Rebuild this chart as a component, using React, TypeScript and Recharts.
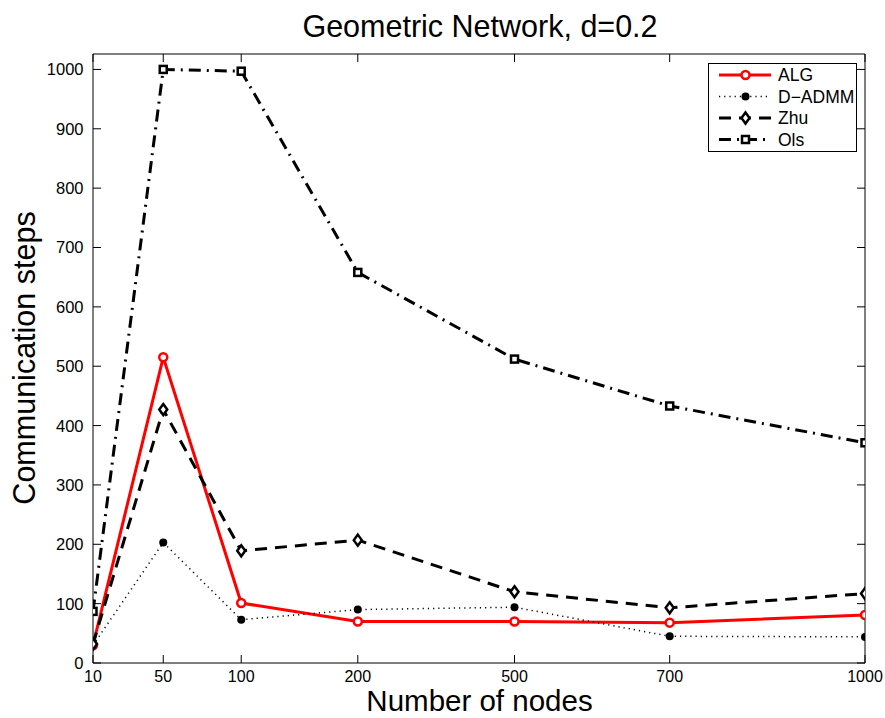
import React from 'react';
import { LineChart, Line, XAxis, YAxis, Legend } from 'recharts';

// ---- data ----
const nodeLabels = ['10', '50', '100', '200', '500', '700', '1000'];
// abscissa used by the original plot (arbitrary units, non-uniform spacing)
const nodeAxisPos = [0, 9.1, 19.2, 34.3, 54.6, 74.7, 100];
const algSteps = [30, 515, 101, 70, 70, 68, 81];
const dadmmSteps = [30, 203, 73, 90, 94, 45, 44];
const zhuSteps = [32, 427, 189, 207, 120, 93, 117];
const olsSteps = [87, 1000, 997, 658, 512, 433, 371];
const yTicks = [0, 100, 200, 300, 400, 500, 600, 700, 800, 900, 1000];
const seriesNames = ['ALG', 'D\u2212ADMM', 'Zhu', 'Ols'];

const data = nodeAxisPos.map((p, i) => ({
  pos: p,
  nodes: nodeLabels[i],
  alg: algSteps[i],
  dadmm: dadmmSteps[i],
  zhu: zhuSteps[i],
  ols: olsSteps[i],
}));

const FONT = '"Liberation Sans", Arial, Helvetica, sans-serif';
const TICK_LEN = 8;

const labelFor = (v: number) => {
  const i = nodeAxisPos.indexOf(v);
  return i >= 0 ? nodeLabels[i] : String(v);
};

const BottomTick = (props: any) => {
  const { x, y, payload } = props;
  return (
    <g>
      <line x1={x} x2={x} y1={y} y2={y - TICK_LEN} stroke="#000" strokeWidth={1} />
      <text x={x} y={y + 18.5} textAnchor="middle" fontSize={16} fontFamily={FONT} fill="#000">
        {labelFor(payload.value)}
      </text>
    </g>
  );
};

const TopTick = (props: any) => {
  const { x, y } = props;
  return <line x1={x} x2={x} y1={y} y2={y + TICK_LEN} stroke="#000" strokeWidth={1} />;
};

const LeftTick = (props: any) => {
  const { x, y, payload } = props;
  return (
    <g>
      <line x1={x} x2={x + TICK_LEN} y1={y} y2={y} stroke="#000" strokeWidth={1} />
      <text x={x - 9.5} y={y} dy="0.36em" textAnchor="end" fontSize={16.5} fontFamily={FONT} fill="#000">
        {payload.value}
      </text>
    </g>
  );
};

const RightTick = (props: any) => {
  const { x, y } = props;
  return <line x1={x} x2={x - TICK_LEN} y1={y} y2={y} stroke="#000" strokeWidth={1} />;
};

// ---- markers ----
const CircleMark = ({ cx, cy }: any) => (
  <circle cx={cx} cy={cy} r={4} fill="#fff" stroke="#ff0000" strokeWidth={2.5} />
);
const DotMark = ({ cx, cy }: any) => <circle cx={cx} cy={cy} r={4} fill="#000" />;
const DiamondMark = ({ cx, cy }: any) => (
  <path
    d={`M${cx},${cy - 5.5}L${cx + 4},${cy}L${cx},${cy + 5.5}L${cx - 4},${cy}Z`}
    fill="#fff"
    stroke="#000"
    strokeWidth={2.5}
  />
);
const SquareMark = ({ cx, cy }: any) => (
  <rect x={cx - 3.5} y={cy - 3.5} width={7} height={7} fill="#fff" stroke="#000" strokeWidth={2.5} />
);

const dotFn = (Comp: any) => (p: any) => {
  if (p.cx == null || p.cy == null) return <g key={p.key ?? p.index} />;
  return <Comp key={p.key ?? `d-${p.index}`} cx={p.cx} cy={p.cy} />;
};

const seriesStyles = [
  { stroke: '#ff0000', width: 3, dash: undefined as string | undefined, Mark: CircleMark },
  { stroke: '#000', width: 1.5, dash: '1.2 4', Mark: DotMark },
  { stroke: '#000', width: 3, dash: '12 8', Mark: DiamondMark },
  { stroke: '#000', width: 3, dash: '12 6 2 6', Mark: SquareMark },
];

const LegendBox = () => {
  const rowY = [12, 33.5, 55, 76.5];
  return (
    <svg width={150} height={90} style={{ display: 'block' }}>
      <rect x={0.5} y={0.5} width={148} height={88} fill="#fff" stroke="#000" strokeWidth={1} />
      {seriesNames.map((name, i) => {
        const s = seriesStyles[i];
        const M = s.Mark;
        return (
          <g key={name}>
            <line
              x1={11}
              x2={63}
              y1={rowY[i]}
              y2={rowY[i]}
              stroke={s.stroke}
              strokeWidth={s.width}
              strokeDasharray={s.dash}
            />
            <M cx={37.5} cy={rowY[i]} />
            <text x={70} y={rowY[i]} dy="0.36em" fontSize={17.5} fontFamily={FONT} fill="#000">
              {name}
            </text>
          </g>
        );
      })}
    </svg>
  );
};

// plot box: left 93, right 865, top 54, bottom 663
const X_AXIS_H = 30;
const TOP_AXIS_H = 10;
const Y_AXIS_W = 40;
const RIGHT_AXIS_W = 10;

export default function App() {
  return (
    <div style={{ position: 'relative', width: 885, height: 718, background: '#fff' }}>
      <style>{`body{margin:0;background:#fff}`}</style>
      <LineChart
        width={885}
        height={718}
        data={data}
        margin={{
          top: 54 - TOP_AXIS_H,
          right: 20 - RIGHT_AXIS_W,
          bottom: 55 - X_AXIS_H,
          left: 93 - Y_AXIS_W,
        }}
      >
        <XAxis
          xAxisId="bottom"
          dataKey="pos"
          type="number"
          domain={[0, 100]}
          ticks={nodeAxisPos}
          orientation="bottom"
          height={X_AXIS_H}
          tickSize={0}
          tickMargin={0}
          tickLine={false}
          tick={<BottomTick />}
          axisLine={{ stroke: '#000', strokeWidth: 1 }}
          interval={0}
          allowDataOverflow
        />
        <XAxis
          xAxisId="top"
          dataKey="pos"
          type="number"
          domain={[0, 100]}
          ticks={nodeAxisPos}
          orientation="top"
          height={TOP_AXIS_H}
          tickSize={0}
          tickMargin={0}
          tickLine={false}
          tick={<TopTick />}
          axisLine={{ stroke: '#000', strokeWidth: 1 }}
          interval={0}
          allowDataOverflow
        />
        <YAxis
          yAxisId="left"
          type="number"
          domain={[0, 1026]}
          ticks={yTicks}
          orientation="left"
          width={Y_AXIS_W}
          tickSize={0}
          tickMargin={0}
          tickLine={false}
          tick={<LeftTick />}
          axisLine={{ stroke: '#000', strokeWidth: 1 }}
          interval={0}
          allowDataOverflow
        />
        <YAxis
          yAxisId="right"
          type="number"
          domain={[0, 1026]}
          ticks={yTicks}
          orientation="right"
          width={RIGHT_AXIS_W}
          tickSize={0}
          tickMargin={0}
          tickLine={false}
          tick={<RightTick />}
          axisLine={{ stroke: '#000', strokeWidth: 1 }}
          interval={0}
          allowDataOverflow
        />
        <Legend
          verticalAlign="middle"
          align="center"
          layout="vertical"
          wrapperStyle={{ position: 'absolute', left: 708, top: 63, width: 150, height: 90 }}
          content={() => <LegendBox />}
        />
        {(['alg', 'dadmm', 'zhu', 'ols'] as const).map((key, i) => {
          const s = seriesStyles[i];
          return (
            <Line
              key={key}
              xAxisId="bottom"
              yAxisId="left"
              type="linear"
              dataKey={key}
              name={seriesNames[i]}
              stroke={s.stroke}
              strokeWidth={s.width}
              strokeDasharray={s.dash}
              dot={dotFn(s.Mark)}
              activeDot={false}
              isAnimationActive={false}
            />
          );
        })}
      </LineChart>
      <svg
        width={885}
        height={718}
        style={{ position: 'absolute', left: 0, top: 0, pointerEvents: 'none' }}
      >
        <text x={480} y={37} textAnchor="middle" fontSize={30.5} fontFamily={FONT} fill="#000">
          Geometric Network, d=0.2
        </text>
        <text x={479.5} y={710.5} textAnchor="middle" fontSize={29.5} fontFamily={FONT} fill="#000">
          Number of nodes
        </text>
        <text
          x={0}
          y={0}
          transform="translate(35,358) rotate(-90)"
          textAnchor="middle"
          fontSize={30.5}
          fontFamily={FONT}
          fill="#000"
        >
          Communication steps
        </text>
      </svg>
    </div>
  );
}
